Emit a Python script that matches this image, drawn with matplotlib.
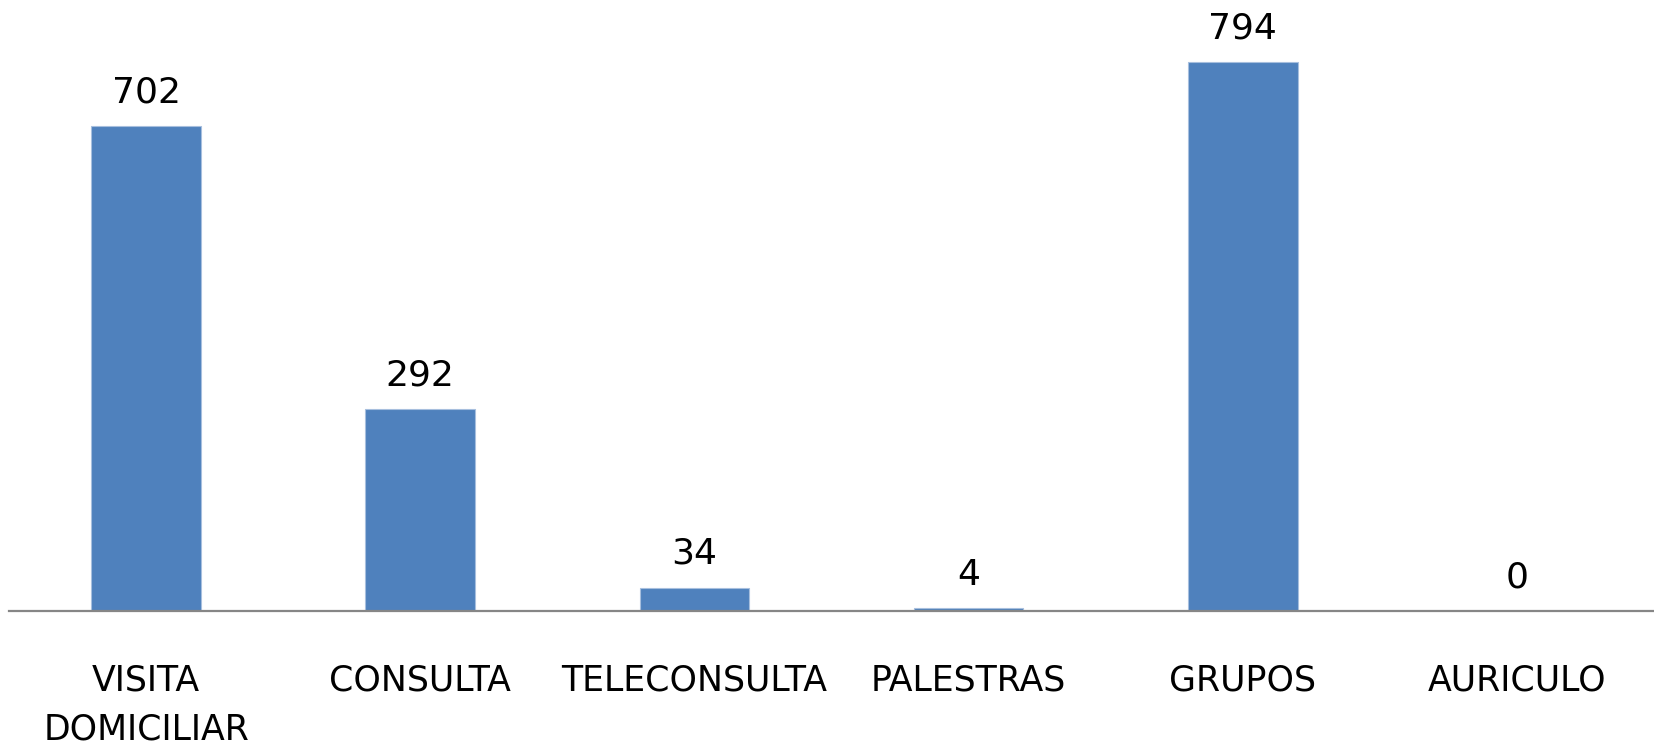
import matplotlib
matplotlib.use("Agg")
import matplotlib.pyplot as plt
import numpy as np

# Data
categories = ['VISITA\nDOMICILIAR', 'CONSULTA', 'TELECONSULTA', 'PALESTRAS', 'GRUPOS', 'AURICULO']
values = [702, 292, 34, 4, 794, 0]

bar_color = '#4F81BD'
W, H = 1654, 748
fig = plt.figure(figsize=(W / 100, H / 100), dpi=100)
ax = fig.add_axes([9 / W, (H - 611) / H, 1 - 9 / W, 611 / H])

x = np.arange(len(categories))
bars = ax.bar(x, values, width=0.4, color=bar_color, edgecolor='#A7BFDE', linewidth=0.8)

ax.set_xlim(-0.5, len(categories) - 0.5)
ax.set_ylim(0, 884)

# Value labels above each bar
for xi, v in zip(x, values):
    ax.annotate(str(v), (xi, v), xytext=(0, 12), textcoords='offset points',
                ha='center', va='bottom', fontsize=26)

ax.set_xticks(x)
ax.set_xticklabels(categories, fontsize=25, linespacing=1.55)
ax.tick_params(axis='x', length=0, pad=38)
ax.set_yticks([])

for side in ['top', 'left', 'right']:
    ax.spines[side].set_visible(False)
ax.spines['bottom'].set_color('#868686')
ax.spines['bottom'].set_linewidth(1.6)

fig.savefig('out.png', dpi=100)
